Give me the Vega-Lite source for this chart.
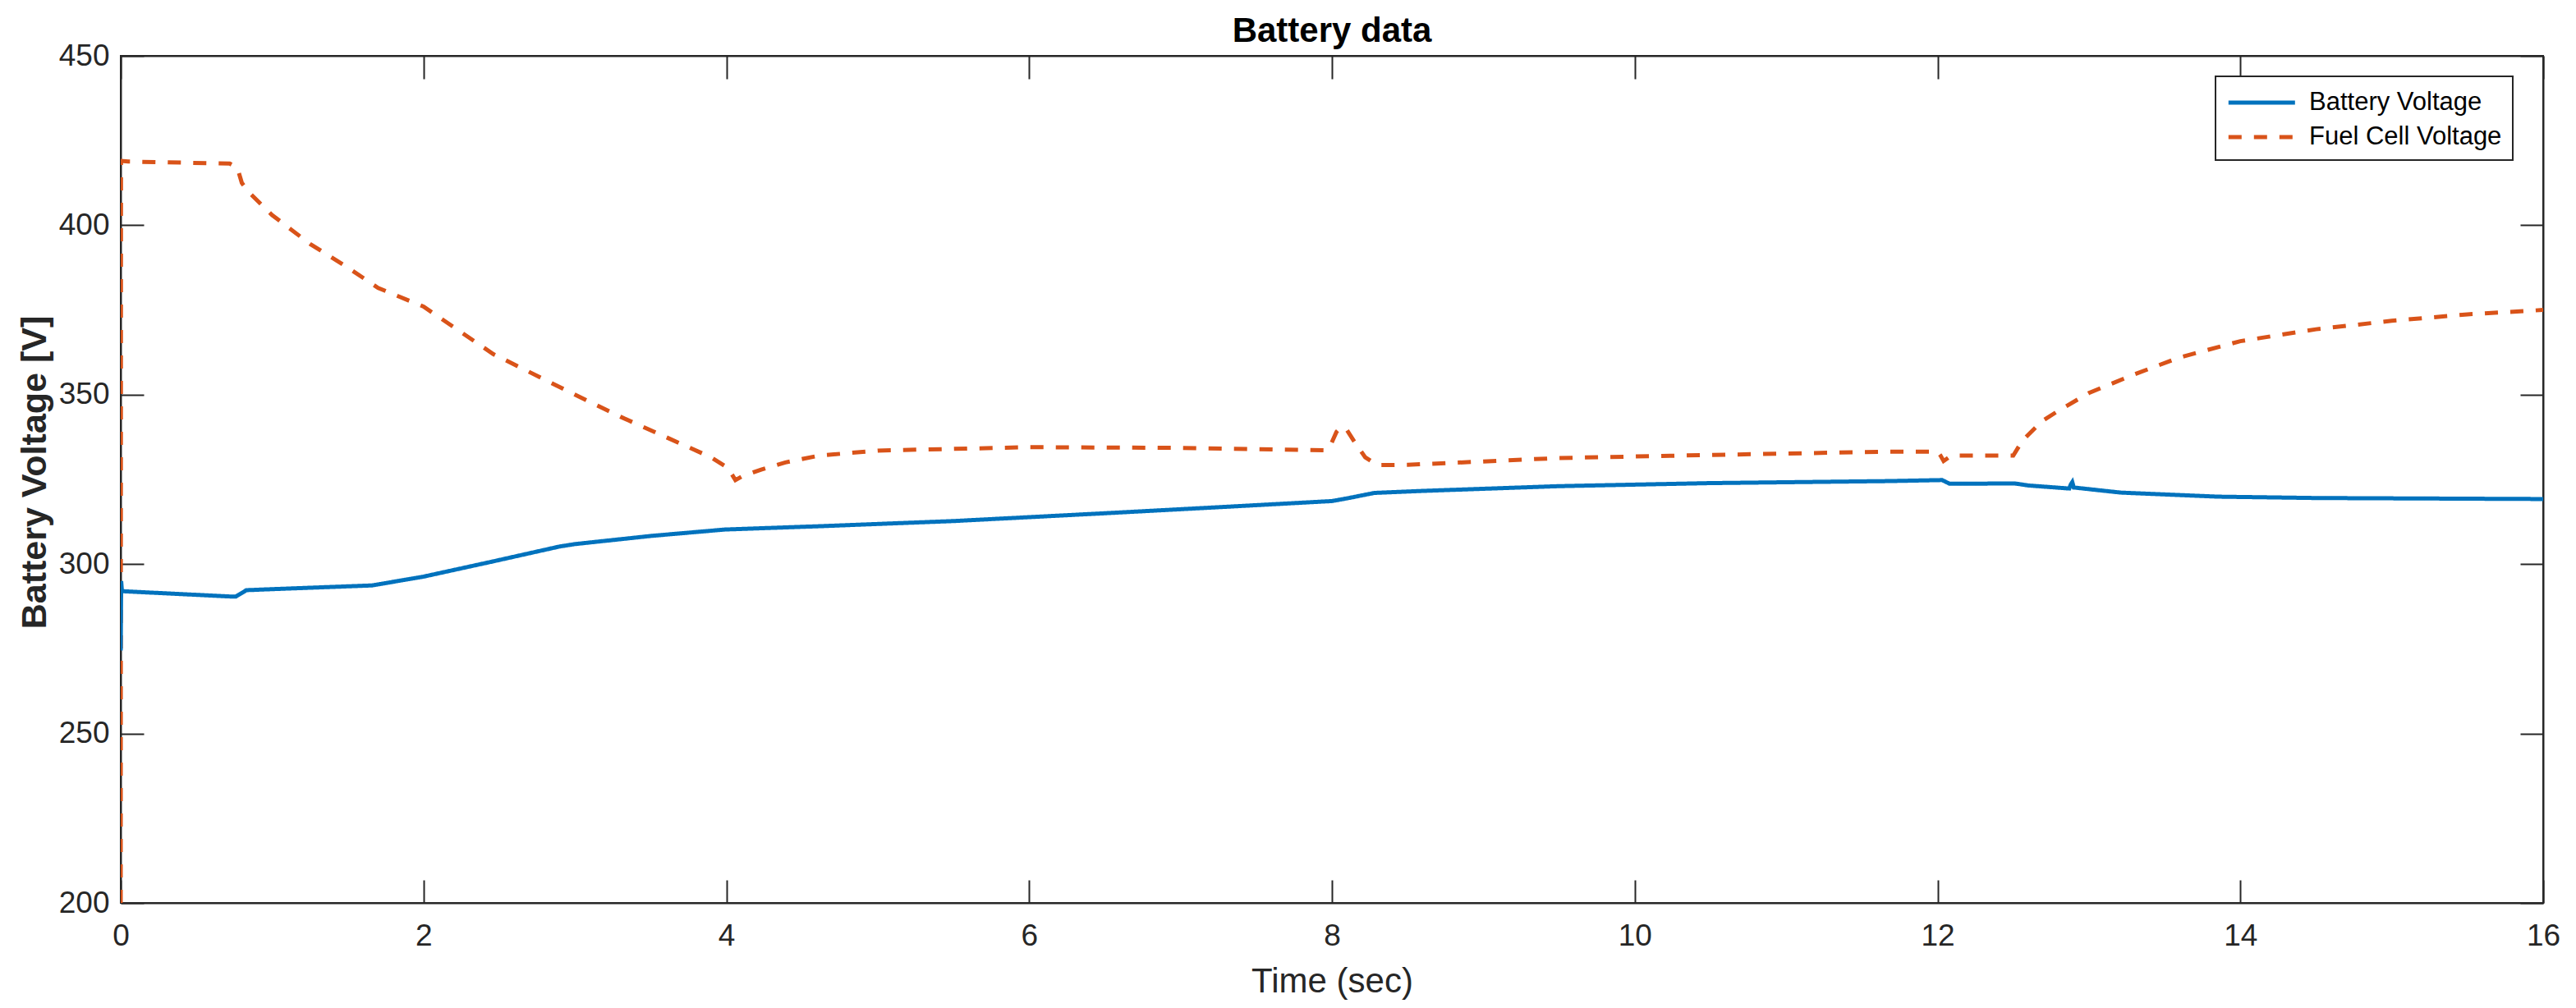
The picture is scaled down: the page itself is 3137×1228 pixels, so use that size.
{
  "$schema": "https://vega.github.io/schema/vega-lite/v6.json",
  "autosize": "none",
  "width": 2950,
  "height": 1032,
  "padding": {"left": 147, "top": 68, "right": 40, "bottom": 128},
  "background": "white",
  "title": {
    "text": "Battery data",
    "font": "Liberation Sans",
    "fontSize": 42,
    "fontWeight": "bold",
    "color": "#000000",
    "anchor": "middle",
    "baseline": "alphabetic",
    "offset": 18,
    "dy": 62
  },
  "config": {
    "view": {"stroke": "#262626", "strokeWidth": 2},
    "axis": {
      "grid": false,
      "domainColor": "#262626",
      "domainWidth": 2,
      "tickColor": "#262626",
      "tickWidth": 2,
      "labelColor": "#262626",
      "titleColor": "#262626",
      "labelFont": "Liberation Sans",
      "titleFont": "Liberation Sans"
    }
  },
  "data": {
    "values": [
      {"t": 0, "v": 200, "series": "Fuel Cell Voltage"},
      {"t": 0.002, "v": 419, "series": "Fuel Cell Voltage"},
      {"t": 0.05, "v": 418.8, "series": "Fuel Cell Voltage"},
      {"t": 0.72, "v": 418.2, "series": "Fuel Cell Voltage"},
      {"t": 0.77, "v": 417, "series": "Fuel Cell Voltage"},
      {"t": 0.8, "v": 412.5, "series": "Fuel Cell Voltage"},
      {"t": 0.84, "v": 410, "series": "Fuel Cell Voltage"},
      {"t": 1.0, "v": 403, "series": "Fuel Cell Voltage"},
      {"t": 1.25, "v": 394.5, "series": "Fuel Cell Voltage"},
      {"t": 1.5, "v": 387.5, "series": "Fuel Cell Voltage"},
      {"t": 1.7, "v": 381.5, "series": "Fuel Cell Voltage"},
      {"t": 2.0, "v": 376, "series": "Fuel Cell Voltage"},
      {"t": 2.46, "v": 362, "series": "Fuel Cell Voltage"},
      {"t": 3.0, "v": 350, "series": "Fuel Cell Voltage"},
      {"t": 3.3, "v": 343.5, "series": "Fuel Cell Voltage"},
      {"t": 3.6, "v": 337.5, "series": "Fuel Cell Voltage"},
      {"t": 3.9, "v": 331.5, "series": "Fuel Cell Voltage"},
      {"t": 4.01, "v": 328.4, "series": "Fuel Cell Voltage"},
      {"t": 4.06, "v": 324.8, "series": "Fuel Cell Voltage"},
      {"t": 4.1, "v": 325.8, "series": "Fuel Cell Voltage"},
      {"t": 4.23, "v": 327.9, "series": "Fuel Cell Voltage"},
      {"t": 4.39, "v": 330, "series": "Fuel Cell Voltage"},
      {"t": 4.61, "v": 332, "series": "Fuel Cell Voltage"},
      {"t": 5.0, "v": 333.5, "series": "Fuel Cell Voltage"},
      {"t": 6.0, "v": 334.5, "series": "Fuel Cell Voltage"},
      {"t": 7.0, "v": 334.3, "series": "Fuel Cell Voltage"},
      {"t": 7.96, "v": 333.6, "series": "Fuel Cell Voltage"},
      {"t": 7.99, "v": 335, "series": "Fuel Cell Voltage"},
      {"t": 8.03, "v": 339, "series": "Fuel Cell Voltage"},
      {"t": 8.06, "v": 340.5, "series": "Fuel Cell Voltage"},
      {"t": 8.1, "v": 339.5, "series": "Fuel Cell Voltage"},
      {"t": 8.15, "v": 336, "series": "Fuel Cell Voltage"},
      {"t": 8.22, "v": 331.5, "series": "Fuel Cell Voltage"},
      {"t": 8.3, "v": 329.2, "series": "Fuel Cell Voltage"},
      {"t": 8.5, "v": 329.3, "series": "Fuel Cell Voltage"},
      {"t": 9.5, "v": 331.3, "series": "Fuel Cell Voltage"},
      {"t": 10.5, "v": 332.2, "series": "Fuel Cell Voltage"},
      {"t": 11.68, "v": 333.2, "series": "Fuel Cell Voltage"},
      {"t": 12.0, "v": 333.2, "series": "Fuel Cell Voltage"},
      {"t": 12.02, "v": 332, "series": "Fuel Cell Voltage"},
      {"t": 12.04, "v": 330.4, "series": "Fuel Cell Voltage"},
      {"t": 12.09, "v": 332, "series": "Fuel Cell Voltage"},
      {"t": 12.5, "v": 332, "series": "Fuel Cell Voltage"},
      {"t": 12.56, "v": 336.4, "series": "Fuel Cell Voltage"},
      {"t": 12.69, "v": 342.2, "series": "Fuel Cell Voltage"},
      {"t": 12.8, "v": 345.3, "series": "Fuel Cell Voltage"},
      {"t": 13.0, "v": 350.5, "series": "Fuel Cell Voltage"},
      {"t": 13.3, "v": 356, "series": "Fuel Cell Voltage"},
      {"t": 13.6, "v": 361, "series": "Fuel Cell Voltage"},
      {"t": 14.0, "v": 365.8, "series": "Fuel Cell Voltage"},
      {"t": 14.5, "v": 369.3, "series": "Fuel Cell Voltage"},
      {"t": 15.0, "v": 371.8, "series": "Fuel Cell Voltage"},
      {"t": 15.5, "v": 373.7, "series": "Fuel Cell Voltage"},
      {"t": 16.0, "v": 375, "series": "Fuel Cell Voltage"},
      {"t": 0, "v": 274.5, "series": "Battery Voltage"},
      {"t": 0.003, "v": 295, "series": "Battery Voltage"},
      {"t": 0.008, "v": 292, "series": "Battery Voltage"},
      {"t": 0.1, "v": 291.8, "series": "Battery Voltage"},
      {"t": 0.74, "v": 290.4, "series": "Battery Voltage"},
      {"t": 0.76, "v": 290.4, "series": "Battery Voltage"},
      {"t": 0.83, "v": 292.3, "series": "Battery Voltage"},
      {"t": 1.0, "v": 292.6, "series": "Battery Voltage"},
      {"t": 1.66, "v": 293.7, "series": "Battery Voltage"},
      {"t": 2.0, "v": 296.3, "series": "Battery Voltage"},
      {"t": 2.46, "v": 300.8, "series": "Battery Voltage"},
      {"t": 2.9, "v": 305.2, "series": "Battery Voltage"},
      {"t": 3.0, "v": 305.9, "series": "Battery Voltage"},
      {"t": 3.5, "v": 308.3, "series": "Battery Voltage"},
      {"t": 3.99, "v": 310.2, "series": "Battery Voltage"},
      {"t": 4.63, "v": 311.2, "series": "Battery Voltage"},
      {"t": 5.5, "v": 312.7, "series": "Battery Voltage"},
      {"t": 6.5, "v": 315, "series": "Battery Voltage"},
      {"t": 7.34, "v": 317, "series": "Battery Voltage"},
      {"t": 8.0, "v": 318.6, "series": "Battery Voltage"},
      {"t": 8.1, "v": 319.4, "series": "Battery Voltage"},
      {"t": 8.28, "v": 321, "series": "Battery Voltage"},
      {"t": 8.6, "v": 321.6, "series": "Battery Voltage"},
      {"t": 9.5, "v": 323, "series": "Battery Voltage"},
      {"t": 10.5, "v": 323.9, "series": "Battery Voltage"},
      {"t": 11.68, "v": 324.5, "series": "Battery Voltage"},
      {"t": 12.03, "v": 324.8, "series": "Battery Voltage"},
      {"t": 12.08, "v": 323.7, "series": "Battery Voltage"},
      {"t": 12.51, "v": 323.8, "series": "Battery Voltage"},
      {"t": 12.6, "v": 323.2, "series": "Battery Voltage"},
      {"t": 12.87, "v": 322.3, "series": "Battery Voltage"},
      {"t": 12.88, "v": 323.5, "series": "Battery Voltage"},
      {"t": 12.89, "v": 324.2, "series": "Battery Voltage"},
      {"t": 12.9, "v": 322.6, "series": "Battery Voltage"},
      {"t": 13.21, "v": 321.1, "series": "Battery Voltage"},
      {"t": 13.85, "v": 319.9, "series": "Battery Voltage"},
      {"t": 14.5, "v": 319.5, "series": "Battery Voltage"},
      {"t": 15.5, "v": 319.3, "series": "Battery Voltage"},
      {"t": 16.0, "v": 319.2, "series": "Battery Voltage"}
    ]
  },
  "layer": [
    {
      "mark": {"type": "line", "strokeWidth": 5, "clip": true},
      "encoding": {
        "x": {
          "field": "t", "type": "quantitative",
          "scale": {"domain": [0, 16], "nice": false, "zero": false},
          "axis": {
            "orient": "bottom",
            "values": [0, 2, 4, 6, 8, 10, 12, 14, 16],
            "tickSize": -28,
            "labelPadding": 50,
            "labelFontSize": 37,
            "labelFlush": false,
            "labelBaseline": "top",
            "title": "Time (sec)",
            "titleFontSize": 42,
            "titleFontWeight": "normal",
            "titleBaseline": "alphabetic",
            "titleX": 1475,
            "titleY": 108
          }
        },
        "y": {
          "field": "v", "type": "quantitative",
          "scale": {"domain": [200, 450], "nice": false, "zero": false},
          "axis": {
            "orient": "left",
            "values": [200, 250, 300, 350, 400, 450],
            "tickSize": -28,
            "labelPadding": 42,
            "labelFontSize": 37,
            "labelFlush": false,
            "title": "Battery Voltage [V]",
            "titleFontSize": 43,
            "titleFontWeight": "bold",
            "titleBaseline": "alphabetic",
            "titleX": -92,
            "titleY": 507
          }
        },
        "color": {
          "field": "series", "type": "nominal",
          "scale": {"domain": ["Battery Voltage", "Fuel Cell Voltage"], "range": ["#0072BD", "#D95319"]},
          "legend": {
            "title": null,
            "orient": "none",
            "legendX": 2551,
            "legendY": 25,
            "symbolType": "M-1,0H4",
            "symbolSize": 1050,
            "symbolStrokeWidth": 5,
            "labelFont": "Liberation Sans",
            "labelFontSize": 31,
            "labelLimit": 500,
            "labelColor": "#000000",
            "labelOffset": 63,
            "padding": 13,
            "rowPadding": 8,
            "fillColor": "white",
            "strokeColor": "#262626",
            "encode": {"legend": {"update": {"strokeWidth": {"value": 2}}}}
          }
        },
        "strokeDash": {
          "field": "series", "type": "nominal",
          "scale": {"domain": ["Battery Voltage", "Fuel Cell Voltage"], "range": [[1, 0], [16, 15]]},
          "legend": {
            "title": null,
            "orient": "none",
            "legendX": 2551,
            "legendY": 25,
            "symbolType": "M-1,0H4",
            "symbolSize": 1050,
            "symbolStrokeWidth": 5,
            "labelFont": "Liberation Sans",
            "labelFontSize": 31,
            "labelLimit": 500,
            "labelColor": "#000000",
            "labelOffset": 63,
            "padding": 13,
            "rowPadding": 8,
            "fillColor": "white",
            "strokeColor": "#262626",
            "encode": {"legend": {"update": {"strokeWidth": {"value": 2}}}}
          }
        }
      }
    },
    {
      "mark": {"type": "point", "opacity": 0},
      "encoding": {
        "x": {
          "field": "t", "type": "quantitative",
          "axis": {
            "orient": "top",
            "values": [0, 2, 4, 6, 8, 10, 12, 14, 16],
            "tickSize": -28,
            "labels": false,
            "title": null
          }
        },
        "y": {
          "field": "v", "type": "quantitative",
          "axis": {
            "orient": "right",
            "values": [200, 250, 300, 350, 400, 450],
            "tickSize": -28,
            "labels": false,
            "title": null
          }
        }
      }
    }
  ],
  "resolve": {"axis": {"x": "independent", "y": "independent"}}
}
